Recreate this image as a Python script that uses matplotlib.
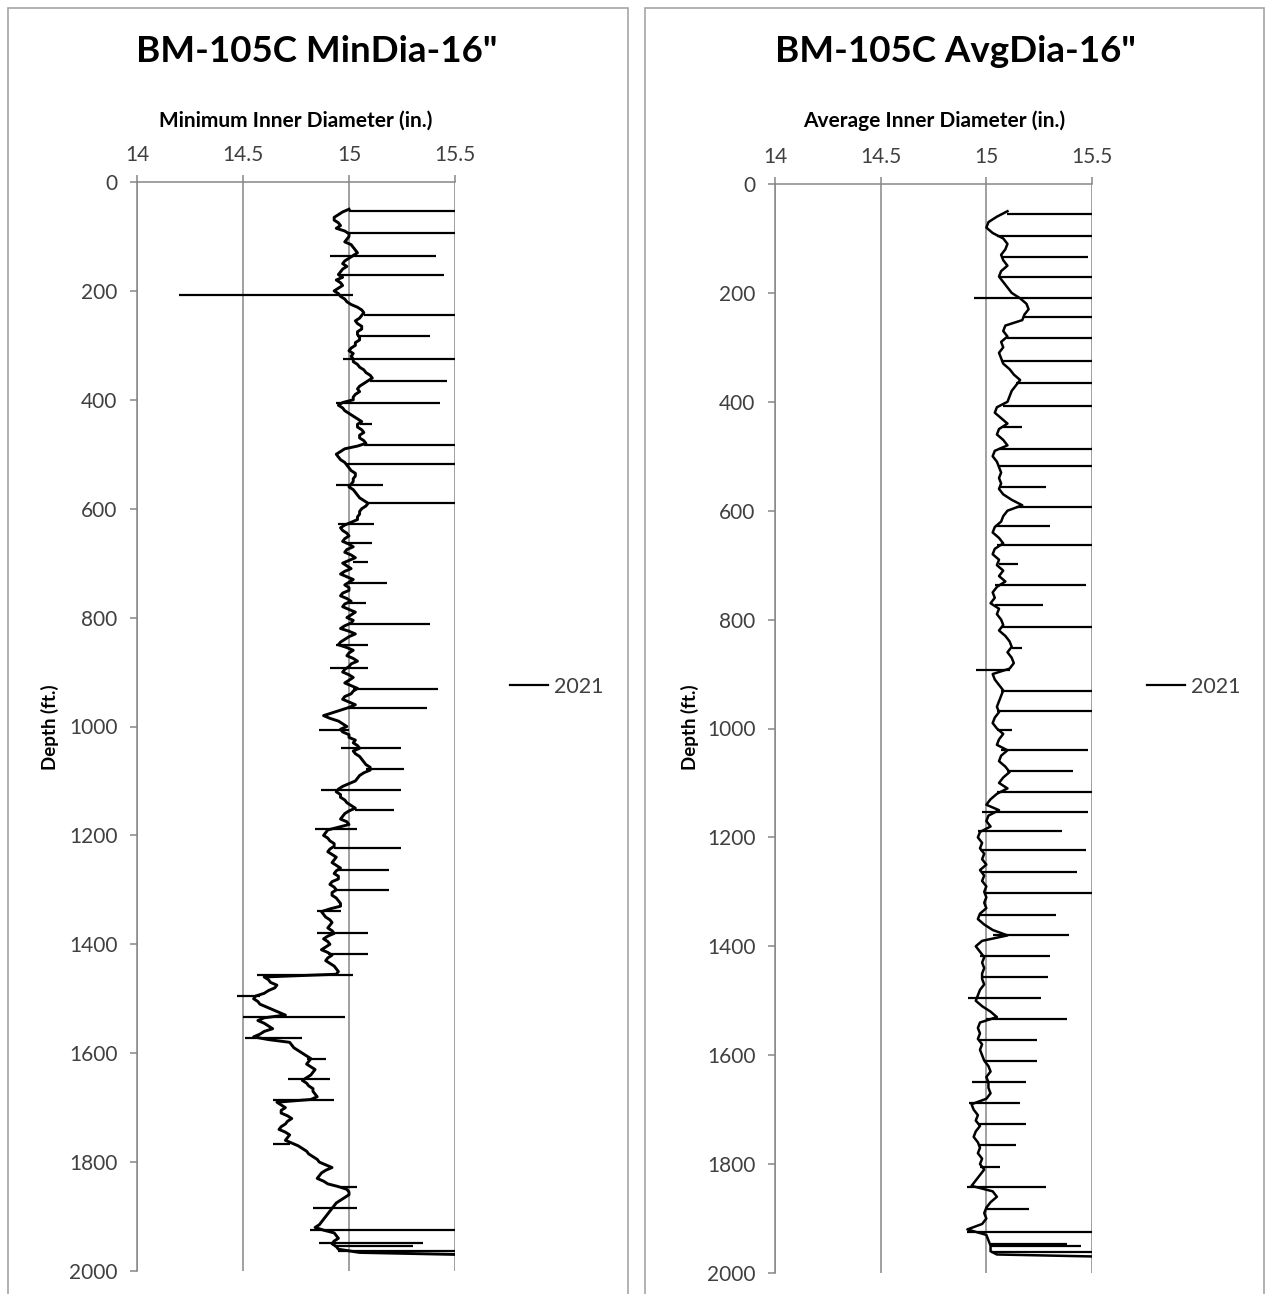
import matplotlib
matplotlib.use("Agg")
import matplotlib.pyplot as plt
from matplotlib.patches import Rectangle
from matplotlib.lines import Line2D

plt.rcParams['font.family'] = ['Lato', 'DejaVu Sans']

# ---------------- data ----------------
# minimum inner diameter, sampled every 5 ft from 50 to 1960 ft, then last two readings
min_depth = list(range(50, 1961, 5)) + [1966, 1972]
min_dia = [
    15.00, 14.97, 14.95, 14.93, 14.93, 14.95, 14.96, 14.94, 14.98, 15.00,   # 50-95
    15.00, 14.99, 14.98, 15.01, 15.02, 15.03, 15.04, 15.02, 15.00, 14.98,   # 100-145
    14.97, 14.99, 14.97, 14.96, 14.95, 14.97, 14.94, 14.96, 14.97, 14.95,   # 150-195
    14.93, 14.95, 14.96, 14.98, 14.99, 15.01, 15.04, 15.06, 15.07, 15.06,   # 200-245
    15.05, 15.03, 15.04, 15.06, 15.06, 15.04, 15.04, 15.05, 15.05, 15.03,   # 250-295
    15.03, 15.01, 15.00, 15.02, 15.01, 15.02, 15.02, 15.04, 15.05, 15.07,   # 300-345
    15.08, 15.10, 15.11, 15.09, 15.07, 15.05, 15.04, 15.05, 15.03, 15.02,   # 350-395
    15.02, 14.97, 14.95, 14.97, 14.98, 15.00, 15.02, 15.04, 15.06, 15.04,   # 400-445
    15.04, 15.06, 15.07, 15.05, 15.05, 15.07, 15.08, 15.04, 14.98, 14.96,   # 450-495
    14.94, 14.95, 14.96, 14.98, 14.99, 15.00, 15.01, 15.03, 15.03, 15.02,   # 500-545
    15.02, 15.01, 15.00, 15.02, 15.03, 15.04, 15.05, 15.07, 15.09, 15.08,   # 550-595
    15.06, 15.05, 15.05, 15.04, 15.04, 15.01, 14.98, 14.96, 14.97, 14.99,   # 600-645
    15.00, 14.98, 14.97, 15.00, 15.02, 14.99, 14.98, 15.01, 15.03, 15.00,   # 650-695
    14.97, 14.99, 15.01, 14.98, 14.96, 14.99, 15.02, 15.00, 14.98, 15.00,   # 700-745
    15.00, 14.97, 14.96, 14.99, 15.01, 14.98, 14.97, 15.00, 15.03, 15.01,   # 750-795
    14.99, 15.02, 15.01, 14.98, 14.96, 15.00, 15.03, 15.00, 14.98, 14.96,   # 800-845
    14.95, 14.99, 15.02, 15.00, 14.99, 15.02, 15.04, 15.01, 15.00, 14.98,   # 850-895
    14.97, 15.00, 15.02, 15.00, 14.98, 15.01, 15.04, 15.02, 15.01, 14.98,   # 900-945
    14.97, 15.00, 15.03, 15.00, 14.96, 14.92, 14.88, 14.91, 14.95, 14.97,   # 950-995
    14.99, 14.96, 14.97, 15.00, 15.00, 15.03, 15.02, 15.04, 15.05, 15.02,   # 1000-1045
    15.03, 15.05, 15.06, 15.07, 15.08, 15.10, 15.10, 15.07, 15.05, 15.04,   # 1050-1095
    15.03, 15.00, 14.97, 14.95, 14.94, 14.96, 14.96, 14.98, 14.99, 15.01,   # 1100-1145
    15.03, 15.00, 14.98, 14.97, 14.96, 14.99, 15.00, 14.95, 14.90, 14.89,   # 1150-1195
    14.88, 14.90, 14.91, 14.93, 14.93, 14.91, 14.90, 14.92, 14.94, 14.93,   # 1200-1245
    14.92, 14.94, 14.96, 14.94, 14.93, 14.95, 14.95, 14.92, 14.91, 14.93,   # 1250-1295
    14.94, 14.92, 14.92, 14.94, 14.95, 14.96, 14.96, 14.91, 14.87, 14.88,   # 1300-1345
    14.89, 14.91, 14.92, 14.91, 14.90, 14.92, 14.93, 14.90, 14.88, 14.90,   # 1350-1395
    14.91, 14.89, 14.87, 14.90, 14.92, 14.90, 14.89, 14.91, 14.93, 14.94,   # 1400-1445
    14.95, 14.94, 14.60, 14.62, 14.63, 14.66, 14.65, 14.62, 14.60, 14.56,   # 1450-1495
    14.55, 14.57, 14.58, 14.61, 14.64, 14.67, 14.70, 14.60, 14.57, 14.60,   # 1500-1545
    14.62, 14.64, 14.60, 14.58, 14.55, 14.62, 14.72, 14.73, 14.74, 14.76,   # 1550-1595
    14.78, 14.80, 14.82, 14.81, 14.80, 14.82, 14.84, 14.83, 14.82, 14.80,   # 1600-1645
    14.78, 14.80, 14.81, 14.83, 14.83, 14.84, 14.85, 14.82, 14.66, 14.68,   # 1650-1695
    14.70, 14.68, 14.68, 14.71, 14.73, 14.71, 14.70, 14.68, 14.67, 14.70,   # 1700-1745
    14.72, 14.71, 14.70, 14.73, 14.76, 14.78, 14.80, 14.81, 14.83, 14.85,   # 1750-1795
    14.86, 14.89, 14.92, 14.89, 14.87, 14.86, 14.85, 14.88, 14.90, 14.95,   # 1800-1845
    14.99, 15.00, 15.00, 14.98, 14.96, 14.94, 14.93, 14.92, 14.91, 14.90,   # 1850-1895
    14.89, 14.88, 14.87, 14.86, 14.84, 14.88, 14.93, 14.94, 14.95, 14.93,   # 1900-1945
    14.92, 14.94, 14.95,                                                    # 1950-1960
    15.05, 15.80,                                                           # 1966, 1972
]

# average inner diameter, sampled every 10 ft from 50 to 1960 ft, then last two readings
avg_depth = list(range(50, 1961, 10)) + [1966, 1972]
avg_dia = [
    15.10, 15.05, 15.01, 15.00, 15.03, 15.08, 15.10, 15.09, 15.07, 15.08,   # 50-140
    15.10, 15.07, 15.06, 15.08, 15.10, 15.12, 15.16, 15.19, 15.20, 15.18,   # 150-240
    15.17, 15.09, 15.08, 15.10, 15.07, 15.08, 15.06, 15.07, 15.08, 15.11,   # 250-340
    15.13, 15.16, 15.14, 15.12, 15.11, 15.10, 15.05, 15.04, 15.07, 15.10,   # 350-440
    15.06, 15.05, 15.08, 15.10, 15.04, 15.03, 15.05, 15.06, 15.07, 15.06,   # 450-540
    15.07, 15.06, 15.08, 15.12, 15.17, 15.10, 15.08, 15.07, 15.04, 15.03,   # 550-640
    15.06, 15.08, 15.04, 15.03, 15.06, 15.05, 15.08, 15.06, 15.09, 15.05,   # 650-740
    15.03, 15.04, 15.02, 15.06, 15.05, 15.07, 15.08, 15.06, 15.09, 15.11,   # 750-840
    15.12, 15.10, 15.12, 15.13, 15.11, 15.03, 15.04, 15.06, 15.08, 15.07,   # 850-940
    15.06, 15.05, 15.06, 15.04, 15.03, 15.05, 15.08, 15.06, 15.05, 15.10,   # 950-1040
    15.07, 15.06, 15.09, 15.11, 15.08, 15.06, 15.10, 15.05, 15.02, 15.00,   # 1050-1140
    15.06, 15.01, 15.00, 15.02, 14.97, 14.96, 14.98, 14.97, 14.99, 14.98,   # 1150-1240
    15.00, 14.97, 14.99, 14.98, 15.00, 14.99, 15.00, 14.99, 15.00, 14.97,   # 1250-1340
    14.96, 14.99, 15.03, 15.10, 14.98, 14.95, 14.97, 14.99, 14.98, 14.99,   # 1350-1440
    14.98, 14.98, 14.99, 14.97, 14.96, 14.95, 14.98, 15.02, 15.05, 14.97,   # 1450-1540
    14.96, 14.97, 14.96, 14.98, 14.97, 14.98, 14.99, 15.01, 15.02, 15.00,   # 1550-1640
    15.01, 15.01, 15.02, 15.00, 14.93, 14.94, 14.96, 14.95, 14.97, 14.95,   # 1650-1740
    14.94, 14.96, 14.97, 14.96, 14.98, 14.97, 14.99, 14.97, 14.95, 14.93,   # 1750-1840
    15.03, 15.05, 15.02, 15.00, 14.99, 15.00, 14.98, 14.91, 15.00, 15.01,   # 1850-1940
    15.02, 15.02,                                                           # 1950-1960
    15.05, 15.80,                                                           # 1966, 1972
]

# short spikes in the log: depth, low end, high end
min_spike_depth = [54, 93, 136, 170, 207, 244, 283, 325, 365, 406, 444, 483, 517, 556,
                   590, 629, 663, 697, 736, 773, 811, 850, 892, 932, 966, 1006, 1040,
                   1078, 1116, 1153, 1188, 1224, 1263, 1300, 1339, 1380, 1418, 1457,
                   1495, 1533, 1572, 1610, 1648, 1686, 1766, 1845, 1884, 1925, 1949,
                   1955, 1964]
min_spike_lo = [15.00, 14.99, 14.91, 14.95, 14.20, 15.07, 15.04, 14.97, 15.10, 14.94,
                15.05, 15.07, 14.99, 14.94, 15.08, 14.95, 14.98, 15.02, 15.00, 15.00,
                15.00, 14.94, 14.91, 15.02, 15.00, 14.86, 14.96, 15.08, 14.87, 15.03,
                14.84, 14.93, 14.95, 14.94, 14.85, 14.85, 14.90, 14.567, 14.47, 14.50,
                14.51, 14.80, 14.71, 14.64, 14.64, 14.96, 14.83, 14.815, 14.86, 14.93,
                14.95]
min_spike_hi = [15.80, 15.80, 15.41, 15.45, 15.02, 15.80, 15.38, 15.80, 15.46, 15.43,
                15.11, 15.80, 15.80, 15.16, 15.80, 15.12, 15.11, 15.09, 15.18, 15.08,
                15.38, 15.09, 15.09, 15.42, 15.37, 15.00, 15.245, 15.26, 15.245, 15.21,
                15.04, 15.245, 15.19, 15.19, 14.96, 15.09, 15.09, 15.02, 14.58, 14.98,
                14.78, 14.89, 14.91, 14.93, 14.72, 15.04, 15.04, 15.80, 15.35, 15.30,
                15.80]

avg_spike_depth = [56, 95, 134, 170, 209, 244, 282, 325, 366, 407, 446, 486, 517, 557,
                   593, 628, 663, 698, 736, 773, 813, 852, 893, 932, 968, 1002, 1039,
                   1078, 1117, 1153, 1188, 1224, 1263, 1303, 1342, 1380, 1418, 1457,
                   1495, 1534, 1572, 1611, 1649, 1688, 1726, 1765, 1805, 1842, 1883,
                   1925, 1946, 1950, 1962]
avg_spike_lo = [15.10, 15.05, 15.07, 15.06, 14.94, 15.18, 15.10, 15.07, 15.14, 15.08,
                15.08, 15.06, 15.06, 15.06, 15.14, 15.04, 15.05, 15.06, 15.04, 15.04,
                15.07, 15.12, 14.95, 15.07, 15.05, 15.05, 15.07, 15.10, 15.05, 14.98,
                14.96, 14.97, 14.98, 14.99, 14.97, 15.03, 14.97, 14.98, 14.915, 15.00,
                14.96, 14.99, 14.93, 14.92, 14.96, 14.96, 14.97, 14.91, 15.00, 14.91,
                15.02, 15.02, 15.02]
avg_spike_hi = [15.80, 15.80, 15.48, 15.80, 15.80, 15.80, 15.80, 15.80, 15.80, 15.80,
                15.17, 15.80, 15.80, 15.28, 15.80, 15.30, 15.80, 15.15, 15.47, 15.27,
                15.80, 15.17, 15.11, 15.80, 15.80, 15.12, 15.48, 15.41, 15.80, 15.48,
                15.36, 15.47, 15.43, 15.80, 15.33, 15.39, 15.30, 15.29, 15.26, 15.38,
                15.24, 15.24, 15.19, 15.16, 15.19, 15.14, 15.065, 15.28, 15.20, 15.80,
                15.38, 15.45, 15.80]

x_ticks = [14, 14.5, 15, 15.5]
x_tick_labels = ['14', '14.5', '15', '15.5']
y_ticks = list(range(0, 2001, 200))
series_name = '2021'

titles = ['BM-105C MinDia-16"', 'BM-105C AvgDia-16"']
x_labels = ['Minimum Inner Diameter (in.)', 'Average Inner Diameter (in.)']

# ---------------- figure ----------------
W, H = 1266, 1294
fig = plt.figure(figsize=(W / 100, H / 100), dpi=100)
fig.patch.set_facecolor('white')

def fx(px):
    return px / W

def fy(py):
    return 1 - py / H

grey = '#868686'

# panel frames
for x0, x1 in [(8, 628), (645, 1264)]:
    fig.patches.append(Rectangle((fx(x0), fy(1300)), fx(x1) - fx(x0), fy(8) - fy(1300),
                                 transform=fig.transFigure, fill=False,
                                 ec='#a6a6a6', lw=1.2))

panels = [
    dict(ax_px=(137, 182, 455, 1271), depth=min_depth, vals=min_dia, sd=min_spike_depth,
         slo=min_spike_lo, shi=min_spike_hi, title_x=317, xlabel_x=296, ylabel_x=50,
         leg_x=510, lw=2.1),
    dict(ax_px=(775, 184, 1092, 1273), depth=avg_depth, vals=avg_dia, sd=avg_spike_depth,
         slo=avg_spike_lo, shi=avg_spike_hi, title_x=955, xlabel_x=934, ylabel_x=690,
         leg_x=1147, lw=1.8),
]

for i, p in enumerate(panels):
    x0, y0, x1, y1 = p['ax_px']
    ax = fig.add_axes([fx(x0), fy(y1), fx(x1) - fx(x0), fy(y0) - fy(y1)])
    ax.set_facecolor('none')
    ax.plot(p['vals'], p['depth'], color='black', lw=p['lw'], solid_joinstyle='round')
    ax.hlines(p['sd'], p['slo'], p['shi'], color='black', lw=1.6)
    ax.set_xlim(14, 15.5)
    ax.set_ylim(2000, 0)
    ax.xaxis.tick_top()
    ax.set_xticks(x_ticks)
    ax.set_xticklabels(x_tick_labels)
    ax.set_yticks(y_ticks)
    ax.set_yticklabels([str(v) for v in y_ticks])
    for s in ['right', 'bottom']:
        ax.spines[s].set_visible(False)
    for s in ['top', 'left']:
        ax.spines[s].set_color(grey)
        ax.spines[s].set_linewidth(1.1)
    ax.grid(axis='x', color=grey, lw=1.1)
    ax.set_axisbelow(True)
    ax.tick_params(axis='x', direction='out', length=5, width=1.1, color=grey,
                   labelsize=15, labelcolor='#404040', pad=7)
    ax.tick_params(axis='y', direction='out', length=5, width=1.1, color=grey,
                   labelsize=15, labelcolor='#404040', pad=9)

    fig.text(fx(p['title_x']), fy(52), titles[i], fontsize=26.5, fontweight='bold',
             ha='center', va='center', color='black')
    fig.text(fx(p['xlabel_x']), fy(121), x_labels[i], fontsize=15, fontweight='bold',
             ha='center', va='center', color='black')
    fig.text(fx(p['ylabel_x']), fy(727), 'Depth (ft.)', fontsize=13.5, fontweight='bold',
             ha='center', va='center', rotation=90, color='black')

    handle = Line2D([], [], color='black', lw=1.6)
    fig.legend([handle], [series_name], loc='center left',
               bbox_to_anchor=(fx(p['leg_x']), fy(687)), bbox_transform=fig.transFigure,
               frameon=False, fontsize=15.5, handlelength=1.75, handletextpad=0.3,
               borderpad=0, borderaxespad=0, labelcolor='#404040')

fig.savefig('out.png', dpi=100, facecolor='white')
